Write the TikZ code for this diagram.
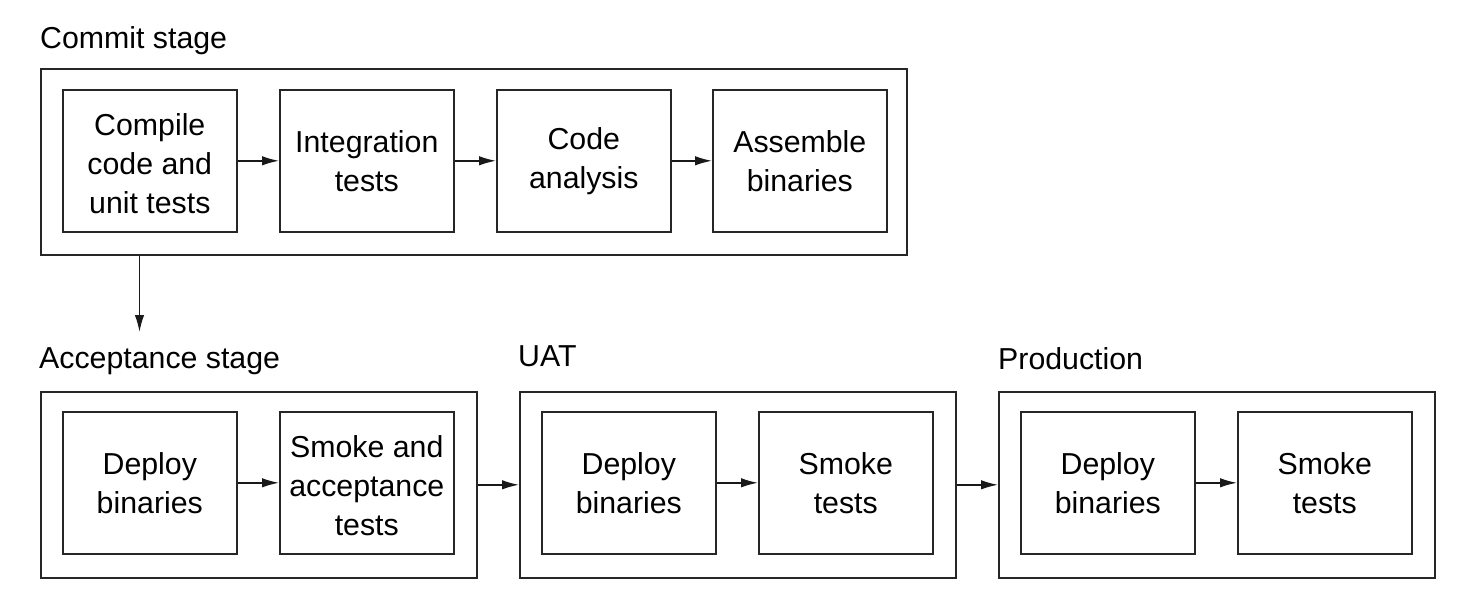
\documentclass[tikz,border=0pt]{standalone}
\usepackage{fontspec}
\setmainfont{Liberation Sans}
\usetikzlibrary{arrows.meta}
\begin{document}
\begin{tikzpicture}[x=1pt,y=-1pt,
  inbox/.style={draw=black!85,line width=1.6pt,minimum width=174pt,minimum height=142pt,
    inner sep=0pt,align=center,font=\fontsize{30.3pt}{38.8pt}\selectfont,anchor=north west},
  outbox/.style={draw=black!85,line width=1.6pt,inner sep=0pt,anchor=north west},
  stagelabel/.style={anchor=base west,inner sep=0pt,font=\fontsize{30.3pt}{38.8pt}\selectfont},
  flow/.style={-{Latex[length=17pt,width=9.5pt]},line width=1.5pt,draw=black!90}]
\useasboundingbox (0,0) rectangle (1470,608);
% labels
\node[stagelabel] (lcommit) at (40,48) {Commit stage};
\node[stagelabel] (laccept) at (39,368) {Acceptance stage};
\node[stagelabel] (luat) at (518,366) {UAT};
\node[stagelabel] (lprod) at (998,369) {Production};
% outer boxes
\node[outbox,minimum width=866pt,minimum height=186pt] (commit) at (40,68) {};
\node[outbox,minimum width=436pt,minimum height=186pt] (accept) at (40,391) {};
\node[outbox,minimum width=436pt,minimum height=186pt] (uat) at (519,391) {};
\node[outbox,minimum width=436pt,minimum height=186pt] (prod) at (998,391) {};
% commit stage steps
\node[inbox] (c1) at (62,89) {\strut Compile\\code and\\unit tests};
\node[inbox] (c2) at (279,89) {Integration\\tests};
\node[inbox] (c3) at (496,89) {Code\\analysis};
\node[inbox] (c4) at (712,89) {Assemble\\binaries};
% acceptance
\node[inbox] (a1) at (62,411) {Deploy\\binaries};
\node[inbox] (a2) at (279,411) {\strut Smoke and\\acceptance\\tests};
% uat
\node[inbox] (u1) at (541,411) {Deploy\\binaries};
\node[inbox] (u2) at (758,411) {Smoke\\tests};
% production
\node[inbox] (p1) at (1020,411) {Deploy\\binaries};
\node[inbox] (p2) at (1237,411) {Smoke\\tests};
% connectors
\draw[flow] (c1) -- (c2);
\draw[flow] (c2) -- (c3);
\draw[flow] (c3) -- (c4);
\draw[flow] (a1) -- (a2);
\draw[flow] (u1) -- (u2);
\draw[flow] (p1) -- (p2);
\draw[flow] (accept) -- (uat);
\draw[flow] (uat) -- (prod);
\coordinate (downend) at (139.5,332);
\draw[flow] (commit.south west -| downend) -- (downend);
\end{tikzpicture}
\end{document}
